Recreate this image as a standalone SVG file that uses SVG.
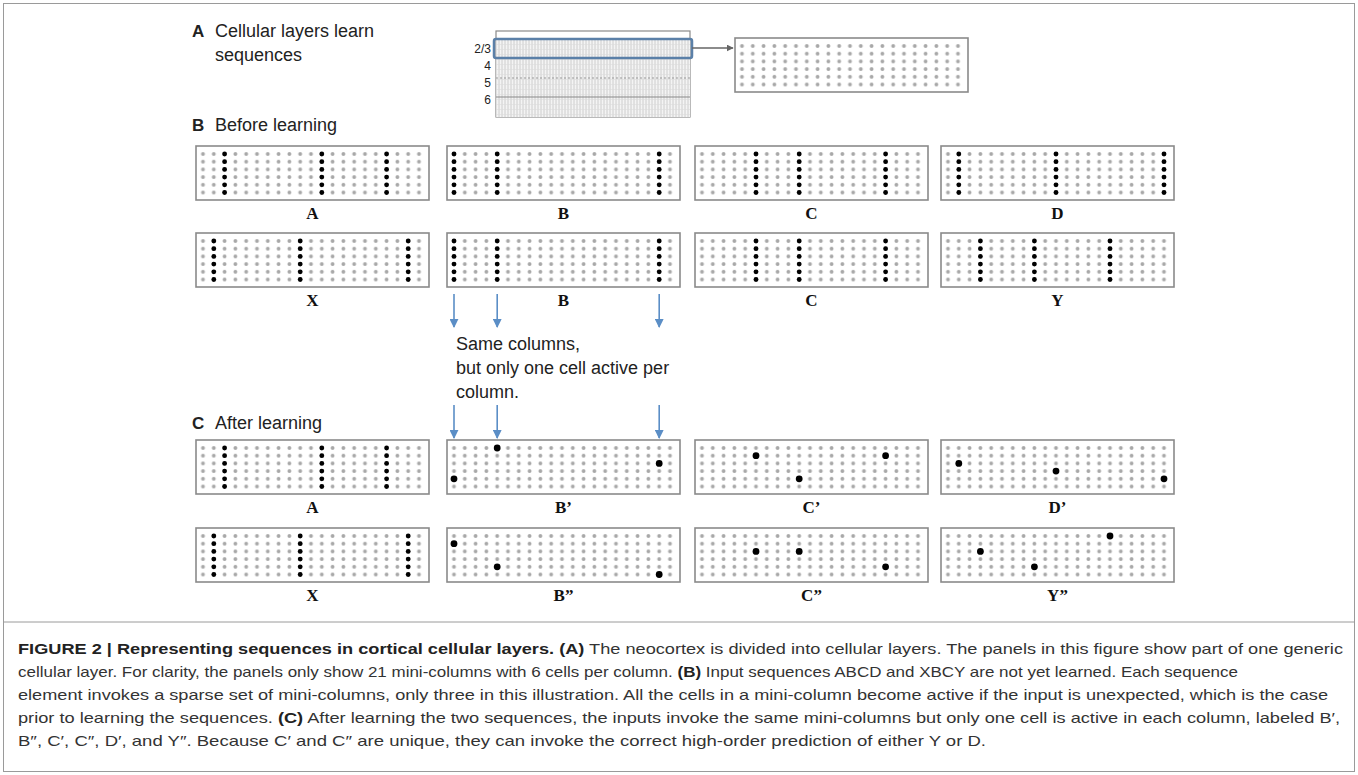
<svg xmlns="http://www.w3.org/2000/svg" xmlns:xlink="http://www.w3.org/1999/xlink" width="1358" height="775" viewBox="0 0 1358 775">
<style>
.sec{font-family:"Liberation Sans",Arial,sans-serif;font-weight:bold;font-size:17px;fill:#222}
.ttl{font-family:"Liberation Sans",Arial,sans-serif;font-size:18px;fill:#222}
.lay{font-family:"Liberation Sans",Arial,sans-serif;font-size:12px;fill:#222;text-anchor:end}
.lbl{font-family:"Liberation Serif","Times New Roman",serif;font-weight:bold;font-size:17px;fill:#111;text-anchor:middle}
.note{font-family:"Liberation Sans",Arial,sans-serif;font-size:18px;fill:#222}
.cap{font-family:"Liberation Sans",Arial,sans-serif;font-size:15px;fill:#333}
.capb{font-weight:bold;fill:#222}
.blue{stroke:#5b8ec6;stroke-width:1.6;fill:none}
</style>
<defs>
<pattern id="cells" patternUnits="userSpaceOnUse" x="1.6" y="4.15" width="10.8" height="7.7">
<circle cx="5.4" cy="3.85" r="1.95" fill="#a8a8a8"/>
</pattern>
<pattern id="hatch" patternUnits="userSpaceOnUse" width="3" height="5">
<rect width="3" height="5" fill="#f4f4f4"/>
<line x1="1" y1="0" x2="1" y2="5" stroke="#c4c4c4" stroke-width="0.8"/>
<line x1="0" y1="4.5" x2="3" y2="4.5" stroke="#dcdcdc" stroke-width="0.6"/>
</pattern>
<g id="panel">
<rect x="0" y="0" width="233" height="54" fill="#fff" stroke="#8a8a8a" stroke-width="1.6"/>
<rect x="1.6" y="4.15" width="226.8" height="46.2" fill="url(#cells)"/>
</g>
<g id="col" fill="#000">
<circle cx="0" cy="8" r="2.4"/><circle cx="0" cy="15.7" r="2.4"/><circle cx="0" cy="23.4" r="2.4"/>
<circle cx="0" cy="31.1" r="2.4"/><circle cx="0" cy="38.8" r="2.4"/><circle cx="0" cy="46.5" r="2.4"/>
</g>
<marker id="ablue" viewBox="0 0 10 10" refX="9" refY="5" markerWidth="9" markerHeight="9" markerUnits="userSpaceOnUse" orient="auto">
<path d="M0,0 L10,5 L0,10 Z" fill="#5b8ec6"/>
</marker>
<marker id="agray" viewBox="0 0 10 10" refX="9" refY="5" markerWidth="7" markerHeight="7" markerUnits="userSpaceOnUse" orient="auto">
<path d="M0,0 L10,5 L0,10 Z" fill="#666"/>
</marker>
</defs>
<rect x="0" y="0" width="1358" height="775" fill="#fff"/>
<rect x="3.5" y="3.5" width="1351" height="768" fill="none" stroke="#9a9a9a" stroke-width="1"/>

<g id="headings">
<text class="sec" x="192" y="37">A</text>
<text class="ttl" x="215" y="37">Cellular layers learn</text>
<text class="ttl" x="215" y="61">sequences</text>
<text class="sec" x="192" y="131">B</text>
<text class="ttl" x="215" y="131">Before learning</text>
<text class="sec" x="192" y="429">C</text>
<text class="ttl" x="215" y="429">After learning</text>
</g>

<g id="layers">
<rect x="496" y="31" width="194" height="86" fill="#fff" stroke="#8a8a8a" stroke-width="1.2"/>
<rect x="496" y="40" width="194" height="77" fill="url(#hatch)"/>
<line x1="496" y1="78" x2="690" y2="78" stroke="#999" stroke-width="1" stroke-dasharray="2,2"/>
<line x1="496" y1="97" x2="690" y2="97" stroke="#888" stroke-width="1.2"/>
<rect x="494" y="39" width="198" height="19" rx="2" fill="none" stroke="#5b80a8" stroke-width="2.5"/>
<text class="lay" x="491" y="53">2/3</text>
<text class="lay" x="491" y="70">4</text>
<text class="lay" x="491" y="87">5</text>
<text class="lay" x="491" y="104">6</text>
</g>

<g id="layer-panel" transform="translate(735,38)"><use href="#panel"/></g>

<g id="b-A" transform="translate(196,146)"><use href="#panel"/><use href="#col" x="28.6"/><use href="#col" x="125.8"/><use href="#col" x="190.6"/><text class="lbl" x="116.5" y="73">A</text></g>
<g id="b-B" transform="translate(447,146)"><use href="#panel"/><use href="#col" x="7"/><use href="#col" x="50.2"/><use href="#col" x="212.2"/><text class="lbl" x="116.5" y="73">B</text></g>
<g id="b-C" transform="translate(695,146)"><use href="#panel"/><use href="#col" x="61"/><use href="#col" x="104.2"/><use href="#col" x="190.6"/><text class="lbl" x="116.5" y="73">C</text></g>
<g id="b-D" transform="translate(941,146)"><use href="#panel"/><use href="#col" x="17.8"/><use href="#col" x="115"/><use href="#col" x="223"/><text class="lbl" x="116.5" y="73">D</text></g>

<g id="b-X" transform="translate(196,233)"><use href="#panel"/><use href="#col" x="17.8"/><use href="#col" x="104.2"/><use href="#col" x="212.2"/><text class="lbl" x="116.5" y="73">X</text></g>
<g id="b-B2" transform="translate(447,233)"><use href="#panel"/><use href="#col" x="7"/><use href="#col" x="50.2"/><use href="#col" x="212.2"/><text class="lbl" x="116.5" y="73">B</text></g>
<g id="b-C2" transform="translate(695,233)"><use href="#panel"/><use href="#col" x="61"/><use href="#col" x="104.2"/><use href="#col" x="190.6"/><text class="lbl" x="116.5" y="73">C</text></g>
<g id="b-Y" transform="translate(941,233)"><use href="#panel"/><use href="#col" x="39.4"/><use href="#col" x="93.4"/><use href="#col" x="169"/><text class="lbl" x="116.5" y="73">Y</text></g>

<g id="note">
<text class="note" x="456" y="350">Same columns,</text>
<text class="note" x="456" y="374">but only one cell active per</text>
<text class="note" x="456" y="398">column.</text>
</g>

<g id="c-A" transform="translate(196,440)"><use href="#panel"/><use href="#col" x="28.6"/><use href="#col" x="125.8"/><use href="#col" x="190.6"/><text class="lbl" x="116.5" y="73">A</text></g>
<g id="c-B1" transform="translate(447,440)"><use href="#panel"/><circle cx="50.2" cy="8" r="3.4"/><circle cx="212.2" cy="23.4" r="3.4"/><circle cx="7" cy="38.8" r="3.4"/><text class="lbl" x="116.5" y="73">B’</text></g>
<g id="c-C1" transform="translate(695,440)"><use href="#panel"/><circle cx="61" cy="15.7" r="3.4"/><circle cx="190.6" cy="15.7" r="3.4"/><circle cx="104.2" cy="38.8" r="3.4"/><text class="lbl" x="116.5" y="73">C’</text></g>
<g id="c-D1" transform="translate(941,440)"><use href="#panel"/><circle cx="17.8" cy="23.4" r="3.4"/><circle cx="115" cy="31.1" r="3.4"/><circle cx="223" cy="38.8" r="3.4"/><text class="lbl" x="116.5" y="73">D’</text></g>

<g id="c-X" transform="translate(196,528)"><use href="#panel"/><use href="#col" x="17.8"/><use href="#col" x="104.2"/><use href="#col" x="212.2"/><text class="lbl" x="116.5" y="73">X</text></g>
<g id="c-B2" transform="translate(447,528)"><use href="#panel"/><circle cx="7" cy="15.7" r="3.4"/><circle cx="50.2" cy="38.8" r="3.4"/><circle cx="212.2" cy="46.5" r="3.4"/><text class="lbl" x="116.5" y="73">B”</text></g>
<g id="c-C2" transform="translate(695,528)"><use href="#panel"/><circle cx="61" cy="23.4" r="3.4"/><circle cx="104.2" cy="23.4" r="3.4"/><circle cx="190.6" cy="38.8" r="3.4"/><text class="lbl" x="116.5" y="73">C”</text></g>
<g id="c-Y2" transform="translate(941,528)"><use href="#panel"/><circle cx="39.4" cy="23.4" r="3.4"/><circle cx="93.4" cy="38.8" r="3.4"/><circle cx="169" cy="8" r="3.4"/><text class="lbl" x="116.5" y="73">Y”</text></g>

<g id="connectors">
<line x1="692" y1="48" x2="733" y2="48" stroke="#666" stroke-width="1.5" marker-end="url(#agray)"/>
<line class="blue" x1="454" y1="294" x2="454" y2="327" marker-end="url(#ablue)"/>
<line class="blue" x1="497.2" y1="294" x2="497.2" y2="327" marker-end="url(#ablue)"/>
<line class="blue" x1="659.2" y1="294" x2="659.2" y2="327" marker-end="url(#ablue)"/>
<line class="blue" x1="454" y1="405" x2="454" y2="438" marker-end="url(#ablue)"/>
<line class="blue" x1="497.2" y1="405" x2="497.2" y2="438" marker-end="url(#ablue)"/>
<line class="blue" x1="659.2" y1="405" x2="659.2" y2="438" marker-end="url(#ablue)"/>
</g>

<g id="caption">
<line x1="3.5" y1="622" x2="1354.5" y2="622" stroke="#9a9a9a" stroke-width="1"/>
<text class="cap" x="18" y="654" textLength="1325" lengthAdjust="spacingAndGlyphs"><tspan class="capb">FIGURE 2 | Representing sequences in cortical cellular layers. (A)</tspan> The neocortex is divided into cellular layers. The panels in this figure show part of one generic</text>
<text class="cap" x="18" y="677" textLength="1220" lengthAdjust="spacingAndGlyphs">cellular layer. For clarity, the panels only show 21 mini-columns with 6 cells per column. <tspan class="capb">(B)</tspan> Input sequences ABCD and XBCY are not yet learned. Each sequence</text>
<text class="cap" x="18" y="700" textLength="1310" lengthAdjust="spacingAndGlyphs">element invokes a sparse set of mini-columns, only three in this illustration. All the cells in a mini-column become active if the input is unexpected, which is the case</text>
<text class="cap" x="18" y="723" textLength="1322" lengthAdjust="spacingAndGlyphs">prior to learning the sequences. <tspan class="capb">(C)</tspan> After learning the two sequences, the inputs invoke the same mini-columns but only one cell is active in each column, labeled B′,</text>
<text class="cap" x="18" y="746" textLength="968" lengthAdjust="spacingAndGlyphs">B″, C′, C″, D′, and Y″. Because C′ and C″ are unique, they can invoke the correct high-order prediction of either Y or D.</text>
</g>
</svg>
